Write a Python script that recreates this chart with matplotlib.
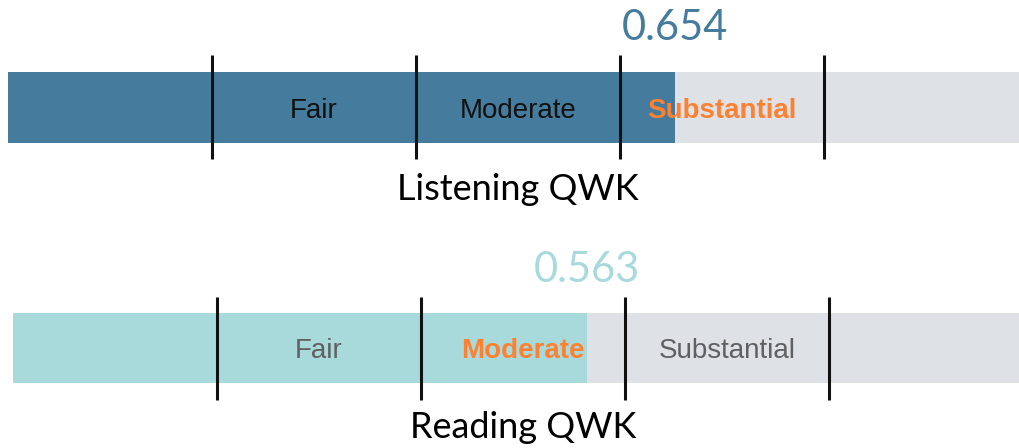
import matplotlib
matplotlib.use("Agg")
import matplotlib.pyplot as plt

# data
names = ["Listening QWK", "Reading QWK"]
scores = [0.654, 0.563]
band_edges = [0.2, 0.4, 0.6, 0.8]
band_names = ["Fair", "Moderate", "Substantial"]
hit_band = [2, 1]  # band that contains the score

# styles
bar_colors = ["#457b9d", "#a8dadc"]
bg_color = "#dee2e6"
hi_color = "#fd8130"
label_colors = [["#111111", "#111111", hi_color], ["#606060", hi_color, "#606060"]]

W, H = 1019, 448
left_px = [8, 13]
# pixel rows of each panel and of the marks inside it
panel_rows = [(0, 224), (224, 448)]
bar_rows = [(72, 143), (313, 383)]
tick_rows = [(55, 159), (297, 400)]
value_base = [40, 282]
name_base = [200, 438]

fig = plt.figure(figsize=(W / 100, H / 100), dpi=100)

for i in range(2):
    y0, y1 = panel_rows[i]
    ax = fig.add_axes([left_px[i] / W, 1 - y1 / H, 1020 / W, (y1 - y0) / H])
    ax.set_xlim(0, 1)
    ax.set_ylim(y1, y0)
    ax.axis("off")

    b0, b1 = bar_rows[i]
    yc, bh = (b0 + b1) / 2, b1 - b0
    ax.barh(yc, 1.0, height=bh, color=bg_color, left=0)
    ax.barh(yc, scores[i], height=bh, color=bar_colors[i], left=0)

    t0, t1 = tick_rows[i]
    ax.vlines(band_edges, t0, t1, color="#111111", linewidth=2.2)

    for j, lab in enumerate(band_names):
        mid = (band_edges[j] + band_edges[j + 1]) / 2
        bold = j == hit_band[i]
        ax.text(mid, yc, lab, ha="center", va="center_baseline",
                fontsize=20, color=label_colors[i][j],
                family="Liberation Sans",
                fontweight="bold" if bold else "normal")

    ax.text(scores[i], value_base[i], f"{scores[i]:.3f}",
            ha="center", va="baseline", fontsize=30,
            color=bar_colors[i], family="Lato")
    ax.text(0.5, name_base[i], names[i], ha="center", va="baseline",
            fontsize=26, color="black", family="Lato")

fig.savefig("out.png", dpi=100)
